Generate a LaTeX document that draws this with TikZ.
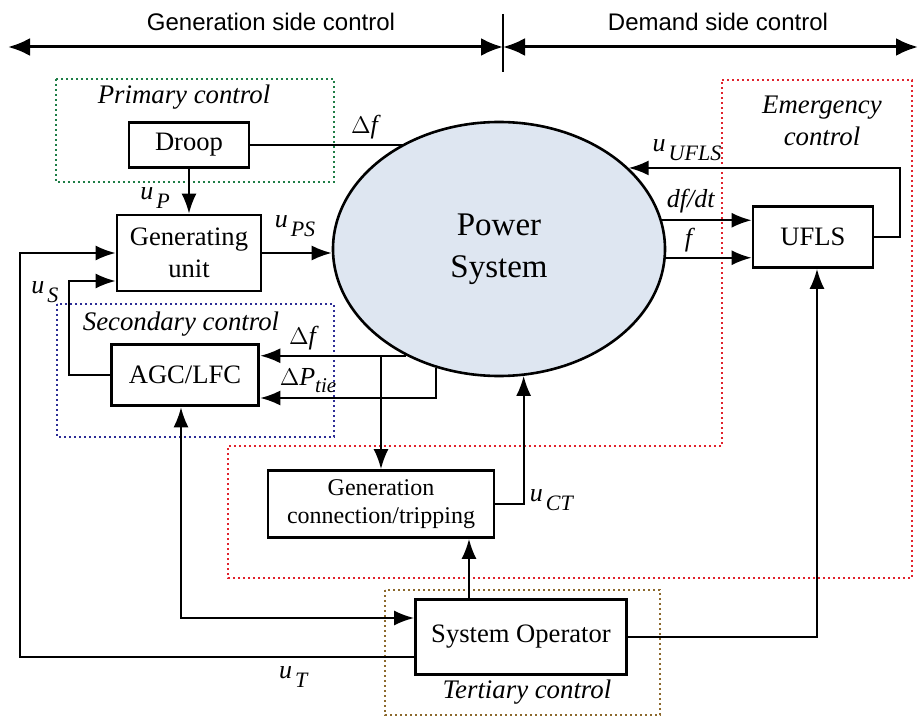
\documentclass[tikz,border=0pt]{standalone}
\usepackage{fontspec}
\setmainfont{Liberation Serif}
\setsansfont{Liberation Sans}
\usepackage{tikz}
\usetikzlibrary{shapes.geometric,arrows.meta,positioning,calc}
\definecolor{psblue}{RGB}{222,230,241}
\definecolor{prigreen}{RGB}{30,125,70}
\definecolor{secblue}{RGB}{45,45,150}
\definecolor{emred}{RGB}{225,35,45}
\definecolor{terbrown}{RGB}{140,105,45}
\newcommand{\usub}[2]{\textit{#1}\kern1.5pt\raisebox{-0.7ex}{\fontsize{11}{11}\selectfont\textit{#2}}}

\begin{document}
\begin{tikzpicture}[x=0.5pt,y=-0.5pt]
  \useasboundingbox (0,0) rectangle (923,717);
  % Control hierarchy of a power system
  \tikzset{blk/.style={draw,line width=1.4pt,inner sep=0pt,align=center,font=\fontsize{13.3}{16}\selectfont},
    zone/.style={line width=1pt,dash pattern=on 1.2pt off 1.3pt},
    lbl/.style={font=\itshape\fontsize{13.4}{16}\selectfont,align=center},
    sgl/.style={font=\fontsize{13}{15}\selectfont},
    arr/.style={-{Latex[length=10pt,width=7.5pt]},line width=1pt},
    dblarr/.style={{Latex[length=10pt,width=7.5pt]}-{Latex[length=10pt,width=7.5pt]},line width=1pt},
    bigarr/.style={{Latex[length=11pt,width=9pt]}-{Latex[length=11pt,width=9pt]},line width=1.5pt}}
  % top axis
  \coordinate (gl) at (8,47);
  \coordinate (gm) at (503,47);
  \coordinate (gr) at (918,47);
  \draw[bigarr] (gl) -- (gm);
  \draw[bigarr] (gm) -- (gr);
  \draw[line width=1.2pt] (503,14) -- (503,72);
  \node[font=\sffamily\fontsize{12}{14}\selectfont] (gsc) at (271,22) {Generation side control};
  \node[font=\sffamily\fontsize{12}{14}\selectfont] (dsc) at (718,22) {Demand side control};
  % control zones
  \draw[zone,prigreen] (56,79) rectangle (334,182);
  \draw[zone,secblue] (57,304) rectangle (334,437);
  \draw[zone,emred] (722,80) -- (912,80) -- (912,578) -- (228,578) -- (228,446) -- (722,446) -- cycle;
  \draw[zone,terbrown] (385,590) rectangle (660,715);
  \node[lbl] (prim) at (184,97) {Primary control};
  \node[lbl] (sec) at (181,324) {Secondary control};
  \node[lbl] (emer) at (822,121) {Emergency\\control};
  \node[lbl] (ter) at (527,692) {Tertiary control};
  % blocks
  \node[ellipse,draw,line width=1.3pt,fill=psblue,minimum width=166pt,minimum height=127pt,inner sep=0pt,
    align=center,font=\fontsize{16.5}{21}\selectfont] (ps) at (499,249) {Power\\System};
  \node[blk,minimum width=60pt,minimum height=22.5pt] (droop) at (189,145) {Droop};
  \node[blk,minimum width=72pt,minimum height=38pt] (gu) at (189,253) {Generating\\unit};
  \node[blk,line width=1.8pt,minimum width=73.5pt,minimum height=30.5pt] (agc) at (185,375) {AGC/LFC};
  \node[blk,minimum width=60pt,minimum height=30.5pt] (ufls) at (813,237) {UFLS};
  \node[blk,minimum width=113pt,minimum height=33.5pt,font=\fontsize{12}{14}\selectfont] (gct) at (381,504) {Generation\\connection/tripping};
  \node[blk,minimum width=105.5pt,minimum height=37.5pt] (so) at (521,637) {System Operator};
  % connections
  \draw[line width=1pt] (droop.east) -- (droop.east -| ps.132.5);
  \draw[arr] (droop) -- (gu);
  \draw[arr] (gu.east) -- (gu.east -| ps.west);
  \draw[arr] (agc.west) -- ++(-41,0) |- ([yshift=-14pt]gu.west);
  \draw[arr] ([yshift=-10pt]so.west) -| (20,253) -- (gu.west);
  \draw[arr] (ps.229.2) -- (ps.229.2 -| agc.east);
  \draw[arr] (ps.242.2) |- ([yshift=-11.5pt]agc.east);
  \draw[arr] (ps.229.2 -| gct.north) -- (gct.north);
  \draw[arr] (gct.east) -| (ps.-79.6);
  \draw[arr] ([xshift=-26pt]so.north) -- ([xshift=-26pt]so.north |- gct.south);
  \draw[arr] (so.east) -| ([xshift=2pt]ufls.south);
  \draw[dblarr] ([xshift=-2pt]agc.south) |- ([yshift=9.5pt]so.west);
  \draw[arr] (ps.10.2) -- (ps.10.2 -| ufls.west);
  \draw[arr] (ps.-3.1) -- (ps.-3.1 -| ufls.west);
  \draw[arr] (ufls.east) -- ++(26,0) |- (ps.32.9);
  % signal labels
  \node[sgl] (ldf) at (366,127) {$\Delta$\textit{f}};
  \node[sgl] (lup) at (155,198) {\usub{u}{P}};
  \node[sgl] (lups) at (295,226) {\usub{u}{PS}};
  \node[sgl] (lus) at (45,292) {\usub{u}{S}};
  \node[sgl] (ldf2) at (304,338) {$\Delta$\textit{f}};
  \node[sgl] (ldp) at (308,381) {$\Delta$\textit{P}\raisebox{-0.6ex}{\fontsize{10.5}{11}\selectfont\textit{tie}}};
  \node[sgl] (luf) at (687,150) {\usub{u}{UFLS}};
  \node[sgl] (ldfdt) at (691,201) {\textit{df/dt}};
  \node[sgl] (lf) at (690,240) {\textit{f}};
  \node[sgl] (luct) at (552,500) {\usub{u}{CT}};
  \node[sgl] (lut) at (294,677) {\usub{u}{T}};
\end{tikzpicture}
\end{document}
